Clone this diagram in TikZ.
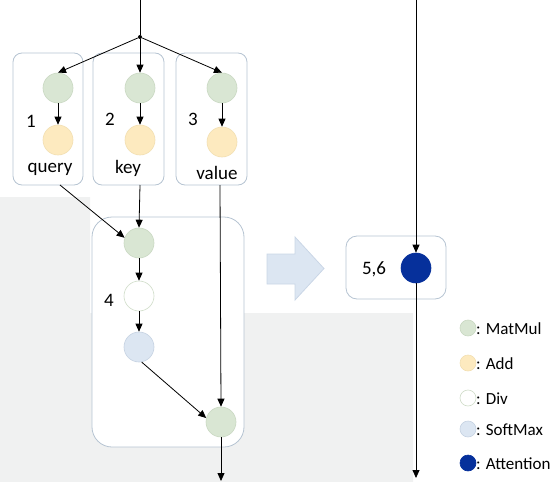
\documentclass[tikz,border=0pt]{standalone}
\usepackage{fontspec}
\setmainfont{Carlito}
\usetikzlibrary{arrows.meta}
\definecolor{bgrey}{HTML}{F0F1F1}
\definecolor{boxline}{HTML}{B6C4D2}
\definecolor{mmfill}{HTML}{D9E6D3}
\definecolor{mmline}{HTML}{C9D8C2}
\definecolor{addfill}{HTML}{FDEABF}
\definecolor{addline}{HTML}{F2DFB2}
\definecolor{divline}{HTML}{CFDCC8}
\definecolor{smfill}{HTML}{DCE6F2}
\definecolor{smline}{HTML}{C5D2E2}
\definecolor{attfill}{HTML}{06309B}
\definecolor{barrowfill}{HTML}{DCE6F2}
\definecolor{barrowline}{HTML}{CAD6E6}
\tikzset{
  op/.style={circle, minimum size=30pt, inner sep=0pt, line width=0.6pt},
  mm/.style={op, fill=mmfill, draw=mmline},
  addop/.style={op, fill=addfill, draw=addline},
  divop/.style={op, fill=white, draw=divline},
  smop/.style={op, fill=smfill, draw=smline},
  attop/.style={op, fill=attfill, draw=attfill},
  lg/.style={minimum size=16pt},
  grp/.style={draw=boxline, line width=0.8pt, rounded corners=9pt, fill=white, inner sep=0pt},
  lbl/.style={font=\fontsize{19}{21}\selectfont, inner sep=0pt},
  lgtxt/.style={font=\fontsize{17}{19}\selectfont, inner sep=0pt, anchor=west},
  conn/.style={line width=0.8pt, -{Triangle[length=8pt,width=7pt]}},
  plain/.style={line width=0.8pt}
}
\begin{document}
\begin{tikzpicture}[x=1pt,y=-1pt]
\useasboundingbox (0,0) rectangle (560,482);
% background grey of the screenshot
\fill[bgrey] (0,197) -- (90,197) -- (90,313) -- (413,313) -- (413,482) -- (0,482) -- cycle;
% group boxes
\node[grp, minimum width=70pt, minimum height=132pt] (qbox) at (48,119) {};
\node[grp, minimum width=71pt, minimum height=132pt] (kbox) at (128.5,119) {};
\node[grp, minimum width=71pt, minimum height=132pt] (vbox) at (211.5,119) {};
\node[grp, rounded corners=20pt, minimum width=152pt, minimum height=230pt] (box4) at (168,332) {};
\node[grp, rounded corners=11pt, minimum width=100pt, minimum height=63pt] (box56) at (396,267.5) {};
% block arrow
\draw[fill=barrowfill, draw=barrowline, line width=0.8pt] (267,254) -- (295,254) -- (295,237) -- (324,268.5) -- (295,300) -- (295,284) -- (267,284) -- cycle;
% operator nodes
\node[mm] (qmm) at (58,88) {};
\node[mm] (kmm) at (140,88) {};
\node[mm] (vmm) at (222,88) {};
\node[addop] (qadd) at (58,140) {};
\node[addop] (kadd) at (140,140) {};
\node[addop] (vadd) at (222,142) {};
\node[mm] (mm4) at (139,243) {};
\node[divop] (div) at (139,296) {};
\node[smop] (sm) at (139,347) {};
\node[mm] (mm5) at (221,422) {};
\node[attop] (att) at (416,268) {};
% labels
\node[lbl] (l1) at (31,121) {1};
\node[lbl] (l2) at (110,119) {2};
\node[lbl] (l3) at (193,119) {3};
\node[lbl] (lq) at (50,169) {query};
\node[lbl] (lk) at (128,168) {key};
\node[lbl] (lv) at (217,173) {value};
\node[lbl] (l4) at (109,300) {4};
\node[lbl] (l56) at (374,269) {5,6};
% coordinates
\coordinate (top) at (140,0);
\node[circle, fill=black, inner sep=0pt, minimum size=4pt] (bp) at (140,37) {};
\coordinate (qout) at (60,185);
\coordinate (kout) at (140,185);
\coordinate (vout) at (220,185);
\coordinate (out1) at (221,481);
\coordinate (rtop) at (416,0);
\coordinate (rout) at (416,478);
% connectors
\draw[plain] (top) -- (bp);
\draw[conn] (bp) -- (qmm.north);
\draw[conn] (bp) -- (kmm.north);
\draw[conn] (bp) -- (vmm.north);
\draw[conn] (qmm) -- (qadd);
\draw[conn] (kmm) -- (kadd);
\draw[conn] (vmm) -- (vadd);
\draw[conn] (qout) -- (mm4.160);
\draw[conn] (kout) -- (mm4.north);
\draw[conn] (vout) -- (mm5.north);
\draw[conn] (mm4) -- (div);
\draw[conn] (div) -- (sm);
\draw[conn] (sm.-80) -- (mm5.165);
\draw[conn] (mm5) -- (out1);
\draw[conn] (rtop) -- (att.north);
\draw[conn] (att) -- (rout);
% legend
\node[mm, lg] (k1) at (468,328) {};
\node[addop, lg] (k2) at (468,363) {};
\node[divop, lg] (k3) at (468,398) {};
\node[smop, lg] (k4) at (468,429) {};
\node[attop, lg] (k5) at (468,463) {};
\node[lgtxt] (t1) at (476,329) {: MatMul};
\node[lgtxt] (t2) at (476,364) {: Add};
\node[lgtxt] (t3) at (476,399) {: Div};
\node[lgtxt] (t4) at (476,430) {: SoftMax};
\node[lgtxt] (t5) at (476,464) {: Attention};
\end{tikzpicture}
\end{document}
